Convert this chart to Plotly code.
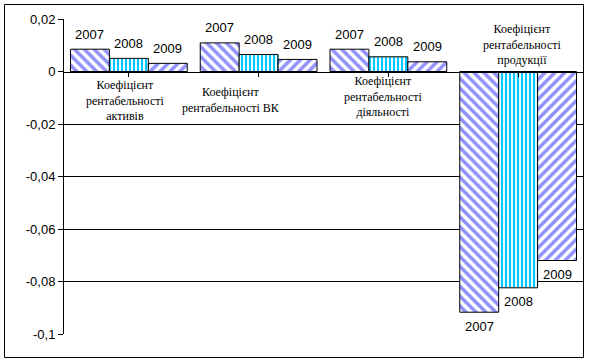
import plotly.graph_objects as go

# ---- data ----
categories = [
    "Коефіцієнт<br>рентабельності<br>активів",
    "Коефіцієнт<br>рентабельності ВК",
    "Коефіцієнт<br>рентабельності<br>діяльності",
    "Коефіцієнт<br>рентабельності<br>продукції",
]
years = ["2007", "2008", "2009"]
v2007 = [0.0085, 0.0109, 0.0085, -0.0917]
v2008 = [0.0050, 0.0065, 0.0056, -0.0824]
v2009 = [0.0031, 0.0046, 0.0037, -0.0720]
series = [v2007, v2008, v2009]

y_tickvals = [0.02, 0, -0.02, -0.04, -0.06, -0.08, -0.1]
y_ticktext = ["0,02", "0", "-0,02", "-0,04", "-0,06", "-0,08", "-0,1"]
y_range = [-0.1, 0.02]

# ---- style ----
W, H = 589, 363
ML, MR, MT, MB = 64, 6, 19, 29
BARGAP = 0.1
patterns = [
    dict(shape="\\", fgcolor="#9090FA", bgcolor="white", size=7, solidity=0.5, fgopacity=1),
    dict(shape="|", fgcolor="#00C8FF", bgcolor="white", size=4, solidity=0.55, fgopacity=1),
    dict(shape="/", fgcolor="#9090FA", bgcolor="white", size=7, solidity=0.5, fgopacity=1),
]
label_dx = [-4, -28, -5, 4]
label_dy = [-28.5, -28, -25, 27.5]
NUM_FONT = "Liberation Sans, Arial, sans-serif"
SERIF_FONT = "Liberation Serif, Times New Roman, serif"

fig = go.Figure()
xkeys = list(range(len(categories)))
for yr, vals, pat in zip(years, series, patterns):
    fig.add_trace(go.Bar(
        x=xkeys, y=vals, name=yr,
        marker=dict(color="white", pattern=pat, line=dict(color="black", width=1)),
        showlegend=False, hoverinfo="skip",
    ))

plot_w = W - ML - MR
plot_h = H - MT - MB
bar_px = plot_w / len(categories) * (1 - BARGAP) / len(years)

annotations = []
for j, (yr, vals) in enumerate(zip(years, series)):
    for i, v in enumerate(vals):
        annotations.append(dict(
            x=xkeys[i], y=v, xref="x", yref="y", text=yr, showarrow=False,
            xshift=(j - 1) * bar_px, yshift=15 if v >= 0 else -14,
            yanchor="middle", xanchor="center",
            font=dict(family=NUM_FONT, size=13, color="black"),
        ))
for i, cat in enumerate(categories):
    annotations.append(dict(
        x=xkeys[i], y=0, xref="x", yref="y", text=cat, showarrow=False,
        xshift=label_dx[i], yshift=label_dy[i], yanchor="middle", xanchor="center",
        align="center", font=dict(family=SERIF_FONT, size=12, color="black"),
    ))

zero_pos = (0 - y_range[0]) / (y_range[1] - y_range[0])
grid_vals = [v for v in y_tickvals if y_range[0] < v < y_range[1] and v != 0]

# outer border in paper coords
bx0 = (4.5 - ML) / plot_w
bx1 = (583.5 - ML) / plot_w
by1 = (H - MB - 4.5) / plot_h
by0 = (H - MB - 357.5) / plot_h

fig.update_layout(
    width=W, height=H, autosize=False,
    margin=dict(l=ML, r=MR, t=MT, b=MB, autoexpand=False),
    paper_bgcolor="white", plot_bgcolor="rgba(0,0,0,0)",
    barmode="group", bargap=BARGAP, bargroupgap=0,
    xaxis=dict(
        range=[-0.5, len(categories) - 0.5], showgrid=False, zeroline=False,
        showticklabels=False, showline=True, linecolor="black", linewidth=1,
        ticks="outside", ticklen=4, tickcolor="black", tickson="boundaries",
        tickvals=xkeys, anchor="free", position=zero_pos,
    ),
    yaxis=dict(
        range=y_range, tickvals=y_tickvals, ticktext=y_ticktext,
        showgrid=False, zeroline=False, showline=True, linecolor="black", linewidth=1,
        ticks="outside", ticklen=5, tickcolor="black",
        tickfont=dict(family=NUM_FONT, size=13, color="black"),
    ),
    yaxis2=dict(
        range=y_range, overlaying="y", tickvals=grid_vals, showgrid=True,
        gridcolor="black", gridwidth=1, showticklabels=False, ticks="",
        zeroline=False, showline=False,
    ),
    annotations=annotations,
    shapes=[dict(type="rect", xref="paper", yref="paper", x0=bx0, x1=bx1, y0=by0, y1=by1,
                 line=dict(color="black", width=1), fillcolor="rgba(0,0,0,0)", layer="above")],
)
fig.add_trace(go.Scatter(x=[None], y=[None], yaxis="y2", showlegend=False, hoverinfo="skip"))

fig.write_html("out.html", config={"displayModeBar": False},
               post_script="document.body.style.margin='0';")
